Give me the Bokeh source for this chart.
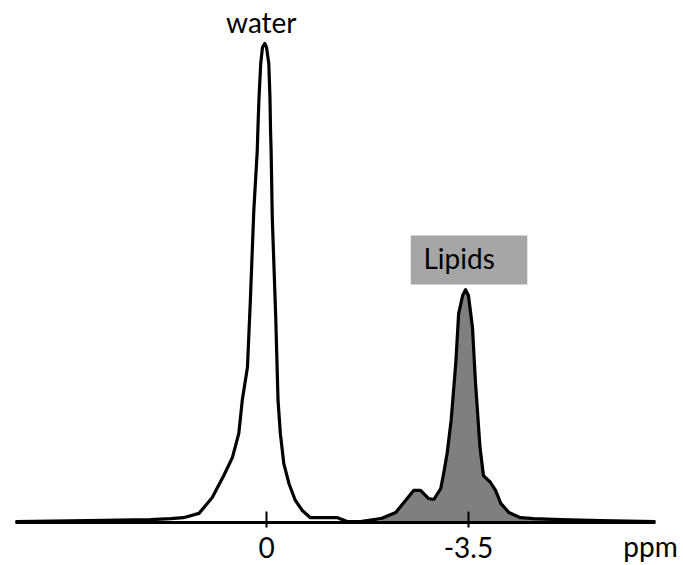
from bokeh.plotting import figure
from bokeh.models import Range1d, FixedTicker, LinearAxis
from bokeh.core.properties import value
from bokeh.embed import file_html
from bokeh.resources import INLINE

# chemical shift (ppm) and intensity (arbitrary units, water peak = 100)
ppm = [4.35, 3.10, 2.01, 1.66, 1.44, 1.17, 0.94, 0.74, 0.59, 0.48, 0.42, 0.33, 0.28,
       0.22, 0.16, 0.15, 0.13, 0.10, 0.07, 0.03, 0.00, -0.04, -0.06, -0.07, -0.08,
       -0.10, -0.16, -0.20, -0.24, -0.30, -0.39, -0.50, -0.62, -0.76, -1.23, -1.40,
       -1.63, -1.98, -2.24, -2.41, -2.55, -2.67, -2.81, -2.90, -3.02, -3.07, -3.13,
       -3.20, -3.28, -3.33, -3.40, -3.45, -3.50, -3.57, -3.62, -3.70, -3.76, -3.88,
       -3.97, -4.06, -4.20, -4.40, -4.63, -5.10, -5.79, -6.74]
intensity = [0.2, 0.4, 0.6, 0.8, 1.0, 1.9, 5.2, 9.8, 13.6, 18.6, 25.5, 32.4, 46.3,
             65.1, 77.7, 81.8, 88.7, 95.8, 99.2, 100.0, 99.2, 95.8, 88.7, 81.8, 77.7,
             63.7, 42.8, 25.5, 18.6, 12.3, 8.1, 4.6, 2.5, 1.0, 1.0, 0.2,
             0.2, 0.8, 2.1, 4.6, 6.7, 6.7, 5.0, 4.8, 7.1, 10.2, 14.4,
             21.3, 33.2, 43.6, 47.4, 48.6, 47.4, 40.7, 29.6, 15.7, 9.8, 8.4,
             6.7, 4.0, 2.1, 1.0, 0.8, 0.6, 0.4, 0.2]
lipid_start_ppm = -1.98

tick_values = [0, -3.5]
tick_labels = {0: "0", -3.5: "-3.5"}
axis_unit = "ppm"
peak_names = ["water", "Lipids"]

FONT = "Lato"

p = figure(width=683, height=565, output_backend="svg", toolbar_location=None,
           x_range=Range1d(4.610, -7.227), y_range=Range1d(-8.977, 108.977),
           min_border_left=0, min_border_right=0, min_border_top=0,
           min_border_bottom=0, x_axis_location=None, y_axis_location=None)
p.outline_line_color = None
p.xgrid.visible = False
p.ygrid.visible = False
p.background_fill_color = "white"
p.border_fill_color = "white"

# lipid fill
lx = [x for x in ppm if x <= lipid_start_ppm]
ly = [y for x, y in zip(ppm, intensity) if x <= lipid_start_ppm]
p.varea(x=lx, y1=[0] * len(lx), y2=ly, fill_color="#7f7f7f")

# baseline (axis line)
p.line([ppm[0], ppm[-1]], [0, 0], line_color="black", line_width=3)

p.line(ppm, intensity, line_color="black", line_width=3.2, line_join="round")

ax = LinearAxis(ticker=FixedTicker(ticks=tick_values), fixed_location=0)
ax.major_label_overrides = tick_labels
ax.axis_line_color = None
ax.major_tick_line_width = 2
ax.major_tick_line_color = "black"
ax.major_tick_in = 11
ax.major_tick_out = 5
ax.minor_tick_line_color = None
ax.major_label_text_font = FONT
ax.major_label_text_font_size = "28px"
ax.major_label_text_color = "black"
ax.major_label_standoff = 9
p.add_layout(ax, "below")

# Lipids box
p.quad(left=[-2.50], right=[-4.52], bottom=[49.7], top=[59.9],
       fill_color="#a6a6a6", line_color=None)

p.text(x=[-2.72], y=[55.3], text=[peak_names[1]], text_font=value(FONT),
       text_font_size="28px", text_align="left", text_baseline="alphabetic",
       text_color="black")
p.text(x=[0.09], y=[104.5], text=[peak_names[0]], text_font=value(FONT),
       text_font_size="28px", text_align="center", text_baseline="alphabetic",
       text_color="black")
p.text(x=[-6.655], y=[-5.0], text=[axis_unit], text_font=value(FONT),
       text_font_size="28px", text_align="center", text_baseline="alphabetic",
       text_color="black")

open("out.html", "w").write(file_html(p, INLINE))
